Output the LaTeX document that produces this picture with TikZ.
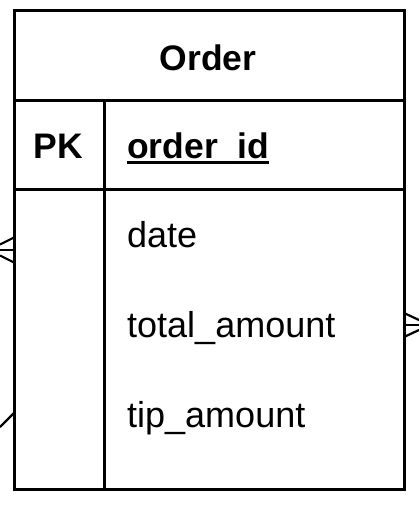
\documentclass[tikz,border=0pt]{standalone}
\usepackage{fontspec}
\setmainfont{Liberation Sans}
\begin{document}
\begin{tikzpicture}[x=1pt,y=-1pt,
  frame/.style={line width=3pt},
  endline/.style={line width=2.2pt},
  fieldtext/.style={anchor=base west,inner sep=0pt,font=\fontsize{36}{40}\selectfont},
  boldtext/.style={inner sep=0pt,font=\fontsize{35.5}{40}\selectfont\bfseries}]
\useasboundingbox (0,0) rectangle (419,520);
% entity frame
\coordinate (tl) at (14,10);
\coordinate (br) at (404,489);
\draw[frame] (tl) rectangle (br);
\draw[frame] (14,100) -- (404,100);
\draw[frame] (14,189) -- (404,189);
\draw[frame] (104,100) -- (104,489);
% texts
\node[boldtext,anchor=base] (title) at (208,70) {Order};
\node[boldtext,anchor=base] (pk) at (58,158) {PK};
\node[boldtext,anchor=base west] (oid) at (127,158) {order\_id};
\draw[line width=2.8pt] (oid.base west) ++(0,4.5) coordinate (u1) -- (u1 -| oid.east);
\node[fieldtext] (date) at (127,247) {date};
\node[fieldtext] (total) at (127,337) {total\_amount};
\node[fieldtext] (tip) at (127,427) {tip\_amount};
% connector ends
\coordinate (l0) at (0,250);
\coordinate (le) at (14,250);
\draw[endline] (0,244.5) -- (14,237.5);
\draw[endline] (l0) -- (le);
\draw[endline] (0,255.5) -- (14,262.5);
\coordinate (r0) at (419,325);
\coordinate (re) at (404,325);
\draw[endline] (404,313) -- (419,320);
\draw[endline] (re) -- (r0);
\draw[endline] (404,337) -- (419,330);
\coordinate (b0) at (0,427);
\coordinate (be) at (14,413);
\draw[endline] (b0) -- (be);
\end{tikzpicture}
\end{document}
